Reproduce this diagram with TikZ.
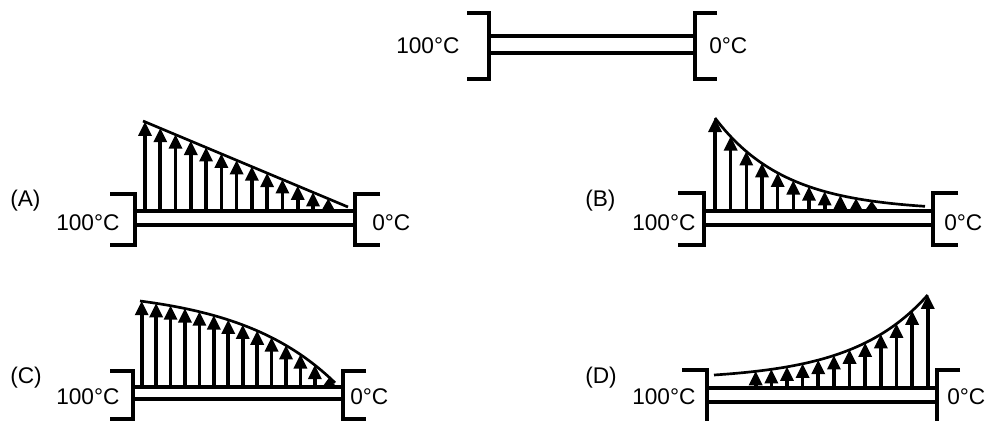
\documentclass[tikz,border=0pt]{standalone}
\usepackage{fontspec}
\setmainfont{Liberation Sans}
\begin{document}
\begin{tikzpicture}[x=0.75pt,y=-0.75pt,
  wall/.style={line width=2.3pt},
  rod/.style={line width=2.3pt},
  shaft/.style={line width=2.7pt},
  head/.style={fill=black},
  prof/.style={line width=2pt},
  lbl/.style={anchor=base west, inner sep=0pt, font=\fontsize{17}{19}\selectfont}]
\newcommand\fluxarrow[3]{% x, base y, tip y
  \pgfmathsetmacro\hl{min(14,#2-#3)}
  \draw[shaft] (#1,#2) -- (#1,#3+\hl-1);
  \fill[head] (#1-7,#3+\hl) -- (#1,#3) -- (#1+7,#3+\hl) -- cycle;}
\useasboundingbox (0,0) rectangle (985,421);
% ---- top bar
\draw[wall] (467,13) -- (489,13) -- (489,79) -- (467,79);
\draw[wall] (717,13) -- (695,13) -- (695,79) -- (717,79);
\draw[rod] (489,36) -- (695,36) (489,53) -- (695,53);
\node[lbl] (t100) at (396,53) {100°C};
\node[lbl] (t0) at (709,53) {0°C};
% ---- (A)
\draw[wall] (110,194) -- (135,194) -- (135,245) -- (110,245);
\draw[wall] (380,194) -- (355,194) -- (355,245) -- (380,245);
\draw[rod] (135,211) -- (355,211) (135,225) -- (355,225);
\node[lbl] (la) at (10,206) {(A)};
\node[lbl] (a100) at (56,230) {100°C};
\node[lbl] (a0) at (372,230) {0°C};
\draw[prof] (143,121) -- (348,207);
\foreach \i in {0,...,12}{
  \pgfmathsetmacro\xx{145+15.27*\i}
  \pgfmathsetmacro\yy{121+(\xx-143)*86/205}
  \fluxarrow{\xx}{211}{\yy}
}
% ---- (B)
\draw[wall] (678,193) -- (704,193) -- (704,245) -- (678,245);
\draw[wall] (958,193) -- (933,193) -- (933,245) -- (958,245);
\draw[rod] (704,211) -- (933,211) (704,225) -- (933,225);
\node[lbl] (lb) at (585,206) {(B)};
\node[lbl] (b100) at (632,230) {100°C};
\node[lbl] (b0) at (944,230) {0°C};
\draw[prof] plot[domain=715:925,samples=60] (\x,{211-93*exp(-0.01423*(\x-715))});
\foreach \i in {0,...,10}{
  \pgfmathsetmacro\xx{715+15.67*\i}
  \pgfmathsetmacro\yy{211-93*exp(-0.01423*(\xx-715))}
  \fluxarrow{\xx}{211}{\yy}
}
% ---- (C)
\draw[wall] (110,371) -- (133,371) -- (133,419) -- (110,419);
\draw[wall] (366,371) -- (343,371) -- (343,419) -- (366,419);
\draw[rod] (133,387) -- (343,387) (133,399) -- (343,399);
\node[lbl] (lc) at (10,383) {(C)};
\node[lbl] (c100) at (56,404) {100°C};
\node[lbl] (c0) at (350,404) {0°C};
\draw[prof] plot[domain=140:335,samples=60] (\x,{387-86+12.8*(exp(2*(\x-140)/195)-1)});
\foreach \i in {0,...,13}{
  \pgfmathsetmacro\xx{141.7+14.43*\i}
  \pgfmathsetmacro\yy{387-86+12.8*(exp(2*(\xx-140)/195)-1)}
  \fluxarrow{\xx}{387}{\yy}
}
% ---- (D)
\draw[wall] (682,370) -- (707,370) -- (707,425);
\draw[wall] (960,370) -- (937,370) -- (937,425);
\draw[rod] (707,388) -- (937,388) (707,402) -- (937,402);
\node[lbl] (ld) at (585,383) {(D)};
\node[lbl] (d100) at (632,404) {100°C};
\node[lbl] (d0) at (947,404) {0°C};
\draw[prof] plot[domain=714:927.7,samples=60] (\x,{388-8-85*exp(0.01326*(\x-927.7))});
\foreach \i in {0,...,11}{
  \pgfmathsetmacro\xx{755.7+15.64*\i}
  \pgfmathsetmacro\yy{388-8-85*exp(0.01326*(\xx-927.7))}
  \fluxarrow{\xx}{388}{\yy}
}
\end{tikzpicture}
\end{document}
